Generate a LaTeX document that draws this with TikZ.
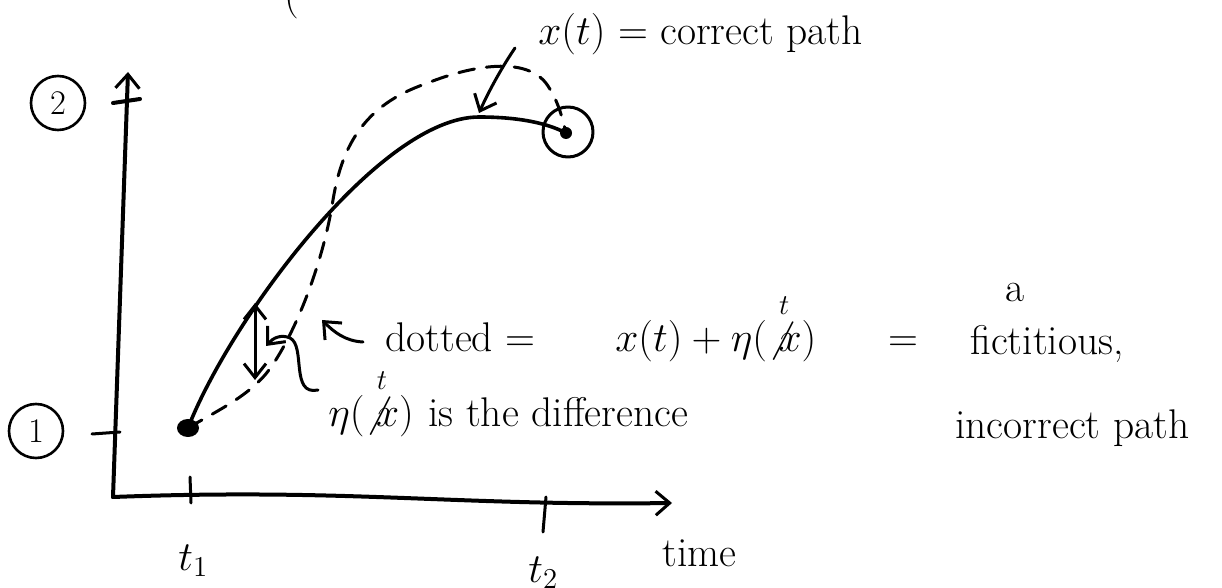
\documentclass[tikz,border=0pt]{standalone}
\usepackage{amsmath}
\usetikzlibrary{arrows.meta}
\begin{document}
\begin{tikzpicture}[x=0.5pt,y=-0.5pt,
  ink/.style={line width=1.5pt, line cap=round, line join=round},
  bar/.style={-{Straight Barb[length=7pt,width=12pt,line width=1.5pt]}},
  dbar/.style={{Straight Barb[length=7pt,width=11pt,line width=1.5pt]}-{Straight Barb[length=7pt,width=11pt,line width=1.5pt]}},
  hand/.style={font=\huge, inner sep=0pt, anchor=base west},
  num/.style={draw, line width=1.3pt, circle, minimum size=27pt, inner sep=0pt, font=\LARGE},
  dots/.style={ink, dash pattern=on 8pt off 6pt}]
\useasboundingbox (0,0) rectangle (1222,588);

% axes
\coordinate (O) at (113,497);
\coordinate (ytip) at (128,72);
\coordinate (xtip) at (672,503);
\draw[ink, line width=2pt, bar] (O) -- (ytip);
\draw[ink, line width=2pt] (113,103) -- (140,99);
\draw[ink, line width=2pt, bar] (O) .. controls (350,488) and (450,506) .. (xtip);

% ticks
\draw[ink] (92,434) -- (120,432);
\draw[ink] (190,477) -- (191,503);
\draw[ink] (546,497) -- (543,532);

% axis labels
\node[num] (c2) at (58,103) {2};
\node[num] (c1) at (36,431) {1};
\node[hand] (t1) at (178,570) {$t_1$};
\node[hand] (t2) at (528,582) {$t_2$};
\node[hand] (time) at (662,567) {time};
\node[hand, anchor=center] (paren) at (292,-2) {(};

% end points
\coordinate (start) at (188,428);
\coordinate (peak) at (479,117);
\coordinate (end) at (566,133);
\fill (start) ellipse [x radius=11, y radius=9];
\fill (end) circle [radius=6];
\node[draw, ink, circle, minimum size=25pt, inner sep=0pt] (endc) at (568,132) {};

% correct path
\draw[ink, line width=1.8pt] (start) .. controls (230,320) and (380,117) .. (peak)
  .. controls (515,117) and (545,122) .. (end);

% fictitious path
\coordinate (f1) at (265,375);
\coordinate (f2) at (333,200);
\coordinate (f3) at (425,84);
\coordinate (f4) at (548,86);
\draw[dots] (start) .. controls (215,412) and (245,398) .. (f1)
  .. controls (290,345) and (322,270) .. (f2)
  .. controls (342,145) and (365,105) .. (f3)
  .. controls (480,62) and (530,58) .. (f4)
  .. controls (557,100) and (561,112) .. (end);

% pointer arrows
\coordinate (xA) at (515,48);
\coordinate (peakTop) at (479,113);
\draw[ink, bar] (xA) .. controls (500,70) and (487,95) .. (peakTop);

\coordinate (dA) at (363,342);
\coordinate (dB) at (322,320);
\draw[ink, bar] (dA) .. controls (345,341) and (334,332) .. (dB);

\coordinate (dd1) at (255,303);
\coordinate (dd2) at (255,380);
\draw[ink, dbar] (dd1) -- (dd2);

\coordinate (hA) at (318,390);
\coordinate (hB) at (266,346);
\draw[ink, bar] (hA) .. controls (290,396) and (306,346) .. (290,338)
  .. controls (281,334) and (273,338) .. (hB);

% texts
\node[hand] (xt) at (538,45) {$x(t)$ = correct path};
\node[hand] (dot) at (385,352) {dotted =};
\node[hand] (sum) at (615,352) {$x(t)+\eta(\overset{t}{\not x})$};
\node[hand] (eq2) at (888,352) {=};
\node[hand] (fic) at (970,355) {fictitious,};
\node[hand, anchor=center] (a) at (1015,293) {a};
\node[hand] (eta) at (328,427) {$\eta(\overset{t}{\not x})$};
\node[hand] (diff) at (428,427) {is the difference};
\node[hand] (inc) at (955,438) {incorrect path};
\end{tikzpicture}
\end{document}
